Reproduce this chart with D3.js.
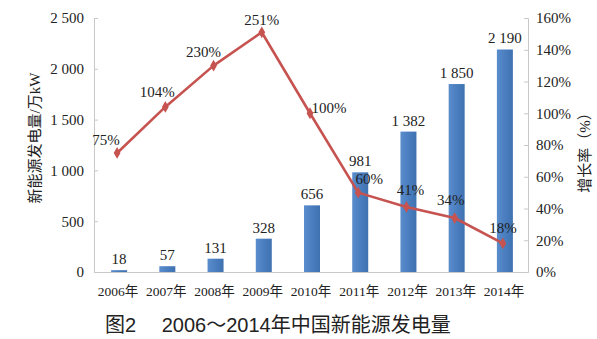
<!DOCTYPE html>
<html>
<head>
<meta charset="utf-8">
<script src="https://cdn.jsdelivr.net/npm/d3@7/dist/d3.min.js"></script>
<style>
  html, body { margin: 0; padding: 0; background: #fff; }
  svg { display: block; }
</style>
</head>
<body>
<svg id="chart" width="597" height="339"></svg>
<script>
// 2006–2014 new-energy generation (万kW) and year-on-year growth rate (%)
const years = ["2006年", "2007年", "2008年", "2009年", "2010年", "2011年", "2012年", "2013年", "2014年"];
const generation = [18, 57, 131, 328, 656, 981, 1382, 1850, 2190];
const growth = [75, 104, 130, 151, 100, 50, 41, 34, 18];
const growthLabels = ["75%", "104%", "230%", "251%", "100%", "60%", "41%", "34%", "18%"];
const leftTicks = [0, 500, 1000, 1500, 2000, 2500];
const rightTicks = [0, 20, 40, 60, 80, 100, 120, 140, 160];

// label offsets for the growth annotations (layout only)
const growthLabelOffset = [
  [-11, -8], [-8, -10], [-10, -9], [0, -7], [19, 0], [11, -9], [4, -12], [-4, -13], [0, -10]
];

const m = { left: 94, right: 528, top: 18, bottom: 272 };
const serif = "'Liberation Serif', 'Times New Roman', 'Noto Sans CJK SC', serif";
const sans = "'Liberation Sans', Arial, 'Noto Sans CJK SC', sans-serif";
const barColor = "#4a7ebf";
const lineColor = "#c65350";
const axisColor = "#c8c8c8";
const textColor = "#222";

const svg = d3.select("#chart");

const x = d3.scaleBand().domain(years).range([m.left, m.right]);
const yL = d3.scaleLinear().domain([0, 2500]).range([m.bottom, m.top]);
const yR = d3.scaleLinear().domain([0, 160]).range([m.bottom, m.top]);

const spaced = v => d3.format(",")(v).replace(/,/g, " ");

// left axis
const leftAxis = d3.axisLeft(yL).tickValues(leftTicks).tickSize(-4).tickPadding(10).tickFormat(spaced);
const gL = svg.append("g").attr("transform", `translate(${m.left},0)`).call(leftAxis);
gL.select(".domain").attr("stroke", axisColor);
gL.selectAll(".tick line").attr("stroke", axisColor);
gL.selectAll(".tick text").attr("font-family", serif).attr("font-size", 15).attr("fill", textColor);

// right axis
const rightAxis = d3.axisRight(yR).tickValues(rightTicks).tickSize(-4).tickPadding(8)
  .tickFormat(v => v + "%");
const gR = svg.append("g").attr("transform", `translate(${m.right},0)`).call(rightAxis);
gR.select(".domain").attr("stroke", axisColor);
gR.selectAll(".tick line").attr("stroke", axisColor);
gR.selectAll(".tick text").attr("font-family", serif).attr("font-size", 15).attr("fill", textColor);

// bottom axis line and year labels
const bottomAxis = d3.axisBottom(x).tickSize(0).tickPadding(14);
const gB = svg.append("g").attr("transform", `translate(0,${m.bottom})`).call(bottomAxis);
gB.select(".domain").attr("stroke", axisColor);
gB.selectAll(".tick text").attr("font-family", serif).attr("font-size", 13.5).attr("fill", textColor);

// bars
const barW = 16;
const barGrad = svg.append("defs").append("linearGradient").attr("id", "barGrad")
  .attr("x1", 0).attr("x2", 1).attr("y1", 0).attr("y2", 0);
barGrad.append("stop").attr("offset", "0%").attr("stop-color", "#5a8dcc");
barGrad.append("stop").attr("offset", "50%").attr("stop-color", barColor);
barGrad.append("stop").attr("offset", "100%").attr("stop-color", "#3f72b0");

const bx = i => x(years[i]) + x.bandwidth() / 2 + 1;

svg.append("g").selectAll("rect").data(generation).join("rect")
  .attr("x", (d, i) => bx(i) - barW / 2)
  .attr("y", d => yL(d))
  .attr("width", barW)
  .attr("height", d => yL(0) - yL(d))
  .attr("fill", "url(#barGrad)");

// bar value labels
svg.append("g").selectAll("text").data(generation).join("text")
  .attr("x", (d, i) => bx(i))
  .attr("y", d => yL(d) - 6)
  .attr("text-anchor", "middle")
  .attr("font-family", serif).attr("font-size", 15).attr("fill", textColor)
  .text(spaced);

// growth line
const cx = i => x(years[i]) + x.bandwidth() / 2 - 1;
const line = d3.line().x((d, i) => cx(i)).y(d => yR(d));
svg.append("path").datum(growth)
  .attr("d", line)
  .attr("fill", "none")
  .attr("stroke", lineColor)
  .attr("stroke-width", 2.6)
  .attr("stroke-linejoin", "round");

svg.append("g").selectAll("path").data(growth).join("path")
  .attr("transform", (d, i) => `translate(${cx(i)},${yR(d)})`)
  .attr("d", d3.symbol().type(d3.symbolDiamond).size(40))
  .attr("fill", lineColor);

// growth annotations
svg.append("g").selectAll("text").data(growth).join("text")
  .attr("x", (d, i) => cx(i) + growthLabelOffset[i][0])
  .attr("y", (d, i) => yR(d) + growthLabelOffset[i][1])
  .attr("text-anchor", "middle")
  .attr("font-family", serif).attr("font-size", 15).attr("fill", textColor)
  .text((d, i) => growthLabels[i]);

// axis titles
svg.append("text")
  .attr("transform", "translate(40,138) rotate(-90)")
  .attr("text-anchor", "middle")
  .attr("font-family", serif).attr("font-size", 15).attr("fill", textColor)
  .text("新能源发电量/万kW");

svg.append("text")
  .attr("transform", "translate(590,149) rotate(-90)")
  .attr("text-anchor", "middle")
  .attr("font-family", serif).attr("font-size", 15).attr("fill", textColor)
  .text("增长率（%）");

// caption
svg.append("text")
  .attr("x", 105).attr("y", 332)
  .attr("font-family", sans).attr("font-size", 20).attr("fill", textColor)
  .attr("xml:space", "preserve")
  .text("图2　 2006～2014年中国新能源发电量");
</script>
</body>
</html>
